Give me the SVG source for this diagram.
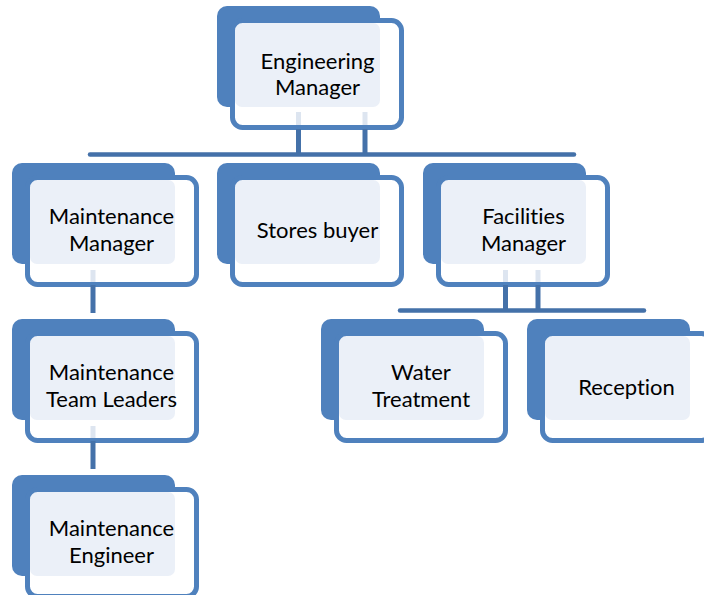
<svg xmlns="http://www.w3.org/2000/svg" xmlns:xlink="http://www.w3.org/1999/xlink" width="704" height="595" viewBox="0 0 704 595">
<style>
.back{fill:#4F81BD}
.ffill{fill:#FFFFFF}
.light{fill:#EBF0F8}
.fstroke{fill:none;stroke:#4F81BD;stroke-width:5}
.lbl{font-family:Lato,"Open Sans","Liberation Sans",sans-serif;font-size:22px;fill:#000;text-anchor:middle;font-variant-ligatures:none}
.dark{stroke:#4471A9;stroke-width:5;fill:none}
.bar{stroke:#4471A9;stroke-width:4.5;stroke-linecap:round;fill:none}
.pale{stroke:#DDE5F0;stroke-width:5;fill:none}
</style>
<defs>
<g id="card">
<rect class="back" x="0" y="0" width="163" height="101" rx="10"/>
<rect class="ffill" x="15.5" y="14.5" width="169" height="107" rx="10"/>
<rect class="light" x="18" y="17" width="145" height="84" rx="7"/>
<rect class="fstroke" x="15.5" y="14.5" width="169" height="107" rx="10"/>
</g>
</defs>
<rect width="704" height="595" fill="#FFFFFF"/>
<g id="engineering-manager">
<use xlink:href="#card" x="217" y="6"/>
<text class="lbl" x="317.5" y="69">Engineering</text>
<text class="lbl" x="317.5" y="95">Manager</text>
</g>
<g id="maintenance-manager">
<use xlink:href="#card" x="12" y="163"/>
<text class="lbl" x="111.5" y="224">Maintenance</text>
<text class="lbl" x="111.5" y="250.5">Manager</text>
</g>
<g id="stores-buyer">
<use xlink:href="#card" x="217" y="163"/>
<text class="lbl" x="317.5" y="238">Stores buyer</text>
</g>
<g id="facilities-manager">
<use xlink:href="#card" x="423" y="163"/>
<text class="lbl" x="523.5" y="224">Facilities</text>
<text class="lbl" x="523.5" y="250.5">Manager</text>
</g>
<g id="maintenance-team-leaders">
<use xlink:href="#card" x="12" y="319"/>
<text class="lbl" x="111.5" y="380">Maintenance</text>
<text class="lbl" x="111.5" y="406.5">Team Leaders</text>
</g>
<g id="water-treatment">
<use xlink:href="#card" x="321" y="319"/>
<text class="lbl" x="421" y="380">Water</text>
<text class="lbl" x="421" y="406.5">Treatment</text>
</g>
<g id="reception">
<use xlink:href="#card" x="527" y="319"/>
<text class="lbl" x="626.5" y="394.5">Reception</text>
</g>
<g id="maintenance-engineer">
<use xlink:href="#card" x="12" y="475"/>
<text class="lbl" x="111.5" y="536">Maintenance</text>
<text class="lbl" x="111.5" y="562.5">Engineer</text>
</g>
<g id="connectors">
<line class="pale" x1="298.5" y1="112" x2="298.5" y2="125"/>
<line class="pale" x1="365" y1="112" x2="365" y2="125"/>
<line class="dark" x1="298.5" y1="129" x2="298.5" y2="154"/>
<line class="dark" x1="365" y1="129" x2="365" y2="154"/>
<line class="bar" x1="90" y1="154.5" x2="574" y2="154.5"/>
<line class="pale" x1="93" y1="270" x2="93" y2="282"/>
<line class="dark" x1="93" y1="285" x2="93" y2="313"/>
<line class="pale" x1="505.5" y1="270" x2="505.5" y2="282"/>
<line class="pale" x1="538" y1="270" x2="538" y2="282"/>
<line class="dark" x1="505.5" y1="285" x2="505.5" y2="310"/>
<line class="dark" x1="538" y1="285" x2="538" y2="310"/>
<line class="bar" x1="400" y1="310.5" x2="644" y2="310.5"/>
<line class="pale" x1="93" y1="426" x2="93" y2="438"/>
<line class="dark" x1="93" y1="441" x2="93" y2="469"/>
</g>
</svg>
